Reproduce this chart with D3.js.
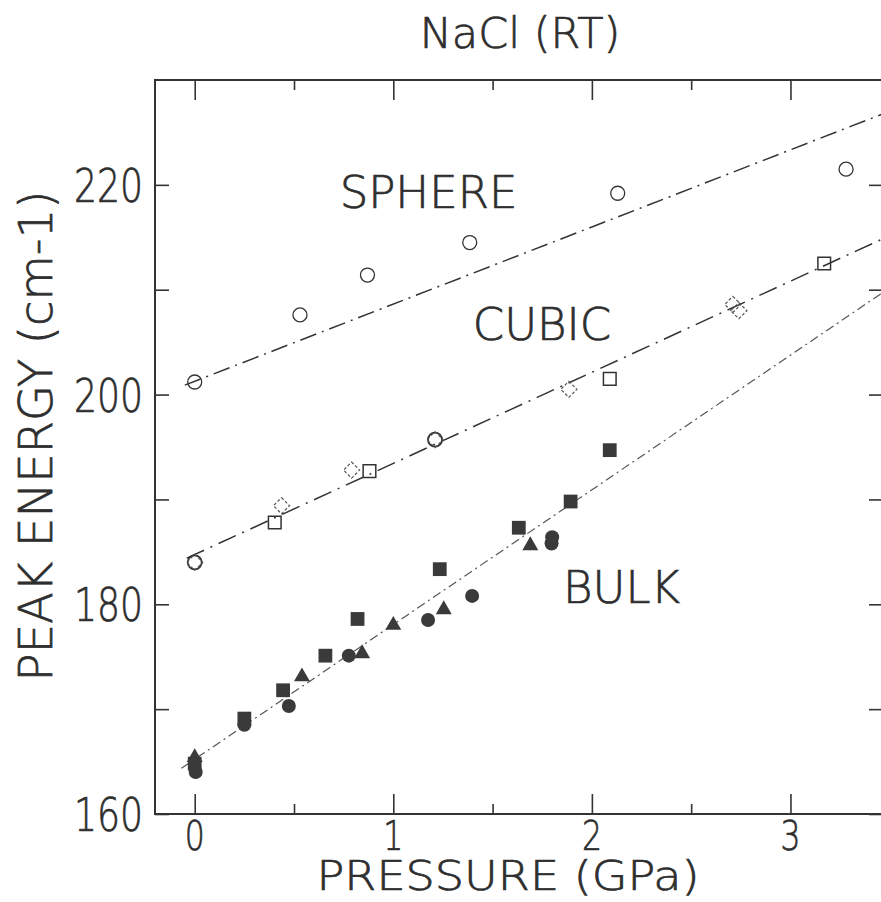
<!DOCTYPE html>
<html>
<head>
<meta charset="utf-8">
<script src="https://cdn.jsdelivr.net/npm/d3@7"></script>
<style>
  body { margin: 0; background: #fff; }
  text { font-family: "DejaVu Sans", sans-serif; font-weight: 200; fill: #2e2e2e; stroke: #2e2e2e; stroke-width: 0.7; }
</style>
</head>
<body>
<div id="chart"></div>
<script>
// pressure (GPa) / peak energy (cm-1)
const sphere = [[0, 201.2], [0.53, 207.6], [0.87, 211.4], [1.385, 214.5], [2.13, 219.2], [3.28, 221.5]];
const cubicSquares = [[0.403, 187.8], [0.88, 192.7], [2.09, 201.5], [3.17, 212.5]];
const cubicDiamonds = [[0, 184.0], [0.437, 189.4], [0.79, 192.8], [1.21, 195.7], [1.884, 200.5], [2.71, 208.6], [2.74, 208.0]];
const cubicCircles = [[0, 184.0], [1.21, 195.7]];
const bulkSquares = [[0, 164.8], [0.25, 169.1], [0.445, 171.8], [0.658, 175.1], [0.82, 178.6], [1.234, 183.35], [1.632, 187.3], [1.893, 189.8], [2.09, 194.7]];
const bulkCircles = [[0.005, 164.0], [0.25, 168.5], [0.474, 170.3], [0.776, 175.1], [1.175, 178.5], [1.397, 180.8], [1.797, 185.8], [1.80, 186.4]];
const bulkTriangles = [[0, 165.4], [0.54, 173.1], [0.843, 175.3], [1.0, 178.0], [1.254, 179.5], [1.69, 185.6]];

// fitted lines (start, end)
const sphereFit = [[-0.05, 200.9], [3.47, 226.8]];
const cubicFit = [[-0.04, 184.4], [3.47, 214.9]];
const bulkFit = [[-0.067, 164.36], [3.47, 209.8]];

const xMajor = [0, 1, 2, 3];
const xMinor = [0.5, 1.5, 2.5];
const yMajor = [160, 170, 180, 190, 200, 210, 220];
const yLabels = [160, 180, 200, 220];

const labels = [
  {text: "SPHERE", p: 0.73, e: 217.8},
  {text: "CUBIC", p: 1.40, e: 205.2},
  {text: "BULK", p: 1.855, e: 180.1}
];

const W = 881, H = 902;
const ink = "#333";

const svg = d3.select("#chart").append("svg")
  .attr("width", W).attr("height", H);

const x = d3.scaleLinear().domain([-0.2, 3.466]).range([155, 883]);
const y = d3.scaleLinear().domain([160, 230]).range([814, 80]);

// ticks (pointing inward)
function ax(gen, tr, vals, size) {
  svg.append("g").attr("transform", tr)
    .call(gen.tickValues(vals).tickSize(size).tickFormat(""))
    .call(g => g.select(".domain").remove())
    .selectAll("line").attr("stroke", ink).attr("stroke-width", 1.6);
}
ax(d3.axisBottom(x), "translate(0,814)", xMajor, -20);
ax(d3.axisBottom(x), "translate(0,814)", xMinor, -10);
ax(d3.axisTop(x), "translate(0,80)", xMajor, -20);
ax(d3.axisTop(x), "translate(0,80)", xMinor, -10);
ax(d3.axisLeft(y), "translate(155,0)", yMajor, -14);
ax(d3.axisRight(y), "translate(883,0)", yMajor, -14);

svg.append("rect")
  .attr("x", x.range()[0]).attr("y", y.range()[1])
  .attr("width", x.range()[1] - x.range()[0])
  .attr("height", y.range()[0] - y.range()[1])
  .attr("fill", "none").attr("stroke", ink).attr("stroke-width", 2);

// tick labels
svg.append("g").selectAll("text").data(xMajor).join("text")
  .attr("x", d => x(d)).attr("y", 850)
  .attr("text-anchor", "middle").attr("font-size", 40)
  .attr("textLength", 20).attr("lengthAdjust", "spacingAndGlyphs")
  .text(d => d);

svg.append("g").selectAll("text").data(yLabels).join("text")
  .attr("x", 143).attr("y", d => y(d) + 17)
  .attr("text-anchor", "end").attr("font-size", 46)
  .attr("textLength", 69).attr("lengthAdjust", "spacingAndGlyphs")
  .text(d => d);

// titles
svg.append("text").attr("x", 520).attr("y", 48)
  .attr("text-anchor", "middle").attr("font-size", 43).text("NaCl (RT)");
svg.append("text").attr("x", 508).attr("y", 890)
  .attr("text-anchor", "middle").attr("font-size", 41)
  .attr("textLength", 383).attr("lengthAdjust", "spacingAndGlyphs")
  .text("PRESSURE (GPa)");
svg.append("text").attr("transform", "translate(52,436) rotate(-90)")
  .attr("text-anchor", "middle").attr("font-size", 46.5).text("PEAK ENERGY (cm-1)");

// fit lines
const line = d3.line().x(d => x(d[0])).y(d => y(d[1]));
svg.append("path").datum(sphereFit).attr("d", line)
  .attr("fill", "none").attr("stroke", ink).attr("stroke-width", 1.5)
  .attr("stroke-dasharray", "17,6,2,6");
svg.append("path").datum(cubicFit).attr("d", line)
  .attr("fill", "none").attr("stroke", ink).attr("stroke-width", 1.5)
  .attr("stroke-dasharray", "19,7,2,7");
svg.append("path").datum(bulkFit).attr("d", line)
  .attr("fill", "none").attr("stroke", "#555").attr("stroke-width", 1.2)
  .attr("stroke-dasharray", "9,4,2,4");

// markers
const pts = svg.append("g");
const sym = (type, size) => d3.symbol().type(type).size(size)();

pts.selectAll(".sph").data(sphere).join("circle")
  .attr("cx", d => x(d[0])).attr("cy", d => y(d[1])).attr("r", 7)
  .attr("fill", "none").attr("stroke", ink).attr("stroke-width", 1.3);

pts.selectAll(".cc").data(cubicCircles).join("circle")
  .attr("cx", d => x(d[0])).attr("cy", d => y(d[1])).attr("r", 7)
  .attr("fill", "none").attr("stroke", ink).attr("stroke-width", 1.8);

pts.selectAll(".cd").data(cubicDiamonds).join("path")
  .attr("transform", d => `translate(${x(d[0])},${y(d[1])}) rotate(45)`)
  .attr("d", sym(d3.symbolSquare, 130))
  .attr("fill", "none").attr("stroke", "#555").attr("stroke-width", 1.2)
  .attr("stroke-dasharray", "3,2");

pts.selectAll(".cs").data(cubicSquares).join("path")
  .attr("transform", d => `translate(${x(d[0])},${y(d[1])})`)
  .attr("d", sym(d3.symbolSquare, 160))
  .attr("fill", "none").attr("stroke", ink).attr("stroke-width", 1.5);

pts.selectAll(".bs").data(bulkSquares).join("path")
  .attr("transform", d => `translate(${x(d[0])},${y(d[1])})`)
  .attr("d", sym(d3.symbolSquare, 190))
  .attr("fill", "#3a3a3a");

pts.selectAll(".bc").data(bulkCircles).join("circle")
  .attr("cx", d => x(d[0])).attr("cy", d => y(d[1])).attr("r", 7)
  .attr("fill", "#3a3a3a");

pts.selectAll(".bt").data(bulkTriangles).join("path")
  .attr("transform", d => `translate(${x(d[0])},${y(d[1])})`)
  .attr("d", sym(d3.symbolTriangle, 110))
  .attr("fill", "#3a3a3a");

// series names
svg.append("g").selectAll("text").data(labels).join("text")
  .attr("x", d => x(d.p)).attr("y", d => y(d.e))
  .attr("font-size", 45).text(d => d.text);
</script>
</body>
</html>
